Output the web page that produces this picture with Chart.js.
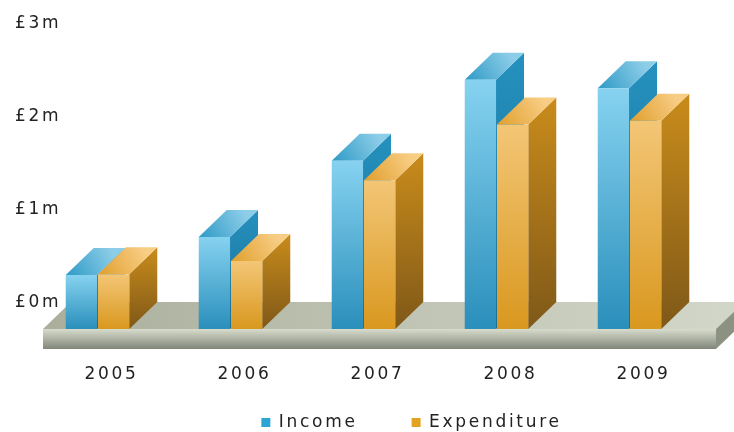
<!DOCTYPE html>
<html>
<head>
<meta charset="utf-8">
<title>Income and Expenditure</title>
<script src="https://cdn.jsdelivr.net/npm/chart.js@4"></script>
<style>
  html, body { margin: 0; padding: 0; background: #fff; }
  canvas { display: block; }
</style>
</head>
<body>
<canvas id="chart" width="734" height="432"></canvas>
<script>
const years = ['2005', '2006', '2007', '2008', '2009'];
const income = [0.58, 0.99, 1.81, 2.68, 2.59];
const expenditure = [0.59, 0.73, 1.60, 2.20, 2.24];
const yTickLabels = ['£0m', '£1m', '£2m', '£3m'];

const DEPTH_X = 28;
const DEPTH_Y = 27;
const FONT = { family: '"DejaVu Sans"', size: 17 };

const palette = [
  { front: ['#86d2f0', '#2a8fbb'], side: ['#2591bf', '#1a6d93'], top: ['#2e9ac6', '#8ccde8'] },
  { front: ['#f3c676', '#d9981f'], side: ['#c98c1b', '#7f5818'], top: ['#e09f2e', '#f8cd84'] }
];

function vGrad(ctx, y0, y1, c0, c1) {
  const g = ctx.createLinearGradient(0, y0, 0, y1);
  g.addColorStop(0, c0);
  g.addColorStop(1, c1);
  return g;
}

function poly(ctx, pts, fill) {
  ctx.beginPath();
  pts.forEach((p, i) => i ? ctx.lineTo(p[0], p[1]) : ctx.moveTo(p[0], p[1]));
  ctx.closePath();
  ctx.fillStyle = fill;
  ctx.fill();
}

const box3d = {
  id: 'box3d',
  beforeUpdate(chart) {
    chart.ctx.letterSpacing = '2.7px';
  },
  afterUpdate(chart) {
    // legend sits right of centre in the original
    const legend = chart.legend;
    legend.left += 48;
    legend.right += 48;
    legend.top += 9;
    // year labels hang below the slab, the scale would clip them otherwise
    chart.scales.x.bottom = chart.height;
  },
  beforeDatasetsDraw(chart) {
    // the floor slab
    const { ctx, chartArea: a } = chart;
    const x0 = a.left + 12, x1 = a.right + 20, y = a.bottom, h = 20;
    const topFill = ctx.createLinearGradient(x0, 0, x1, 0);
    topFill.addColorStop(0, '#aaae9b');
    topFill.addColorStop(1, '#d2d6c8');
    poly(ctx, [[x0, y], [x1, y], [x1 + DEPTH_X, y - DEPTH_Y], [x0 + DEPTH_X, y - DEPTH_Y]], topFill);
    poly(ctx, [[x1, y], [x1 + DEPTH_X, y - DEPTH_Y], [x1 + DEPTH_X, y - DEPTH_Y + h], [x1, y + h]], '#8c9281');
    poly(ctx, [[x0, y], [x1, y], [x1, y + h], [x0, y + h]], vGrad(ctx, y, y + h, '#d8dccc', '#80867a'));
  },
  beforeDatasetDraw() {
    return false; // painted below so expenditure overlaps the income sides
  },
  afterDatasetsDraw(chart) {
    const ctx = chart.ctx;
    chart.data.datasets.forEach((ds, i) => {
      const c = palette[i];
      chart.getDatasetMeta(i).data.forEach(bar => {
        const l = bar.x - bar.width / 2, r = bar.x + bar.width / 2;
        const t = bar.y, b = bar.base;
        poly(ctx, [[r, t], [r + DEPTH_X, t - DEPTH_Y], [r + DEPTH_X, b - DEPTH_Y], [r, b]],
          vGrad(ctx, t - DEPTH_Y, b, c.side[0], c.side[1]));
        const g = ctx.createLinearGradient(l, t, l + DEPTH_X + 16, t - DEPTH_Y);
        g.addColorStop(0, c.top[0]);
        g.addColorStop(1, c.top[1]);
        poly(ctx, [[l, t], [r, t], [r + DEPTH_X, t - DEPTH_Y], [l + DEPTH_X, t - DEPTH_Y]], g);
        poly(ctx, [[l, t], [r, t], [r, b], [l, b]], vGrad(ctx, t, b, c.front[0], c.front[1]));
      });
    });
  }
};

new Chart(document.getElementById('chart').getContext('2d'), {
  type: 'bar',
  plugins: [box3d],
  data: {
    labels: years,
    datasets: [
      { label: 'Income', data: income, backgroundColor: '#2ba6d3' },
      { label: 'Expenditure', data: expenditure, backgroundColor: '#e3a21f' }
    ]
  },
  options: {
    responsive: false,
    animation: false,
    devicePixelRatio: 1,
    layout: { padding: { left: 31, right: 38, top: 50, bottom: 0 } },
    categoryPercentage: 0.485,
    barPercentage: 0.97,
    plugins: {
      tooltip: { enabled: false },
      legend: {
        position: 'bottom',
        labels: { color: '#222', boxWidth: 9, boxHeight: 9, padding: 54, font: FONT }
      }
    },
    scales: {
      x: {
        grid: { display: false, drawTicks: false },
        border: { display: false },
        afterFit: s => { s.height = 22; },
        ticks: { color: '#222', padding: 35, labelOffset: 14, maxRotation: 0, font: FONT }
      },
      y: {
        min: 0,
        max: 3,
        grid: { display: false, drawTicks: false },
        border: { display: false },
        afterFit: s => { s.width = 0; },
        ticks: {
          stepSize: 1,
          color: '#222',
          mirror: true,
          padding: -16,
          labelOffset: -26,
          font: FONT,
          callback: (v, i) => yTickLabels[i]
        }
      }
    }
  }
});
</script>
</body>
</html>
